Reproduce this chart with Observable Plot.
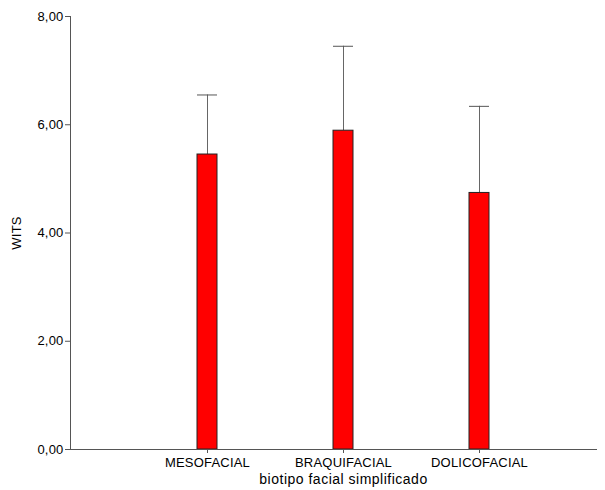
<!DOCTYPE html>
<html>
<head>
<meta charset="utf-8">
<script src="https://cdn.jsdelivr.net/npm/d3@7"></script>
<script src="https://cdn.jsdelivr.net/npm/@observablehq/plot@0.6"></script>
<style>
  html, body { margin: 0; padding: 0; background: #fff; }
  svg { font-family: "Liberation Sans", Arial, sans-serif; }
  svg text { letter-spacing: 0.2px; }
  svg .xtitle text { letter-spacing: 0.5px; }
</style>
</head>
<body>
<div id="chart"></div>
<script>
const categories = ["MESOFACIAL", "BRAQUIFACIAL", "DOLICOFACIAL"];
const means = [5.45, 5.89, 4.74];
const upper = [6.55, 7.45, 6.34];
const yTicks = [0, 2, 4, 6, 8];
const xTitle = "biotipo facial simplificado";
const yTitle = "WITS";

const data = categories.map((c, i) => ({cat: c, mean: means[i], hi: upper[i]}));
const fmt = d => d.toFixed(2).replace(".", ",");
const pad = 1 - 20 / 136;

const chart = Plot.plot({
  width: 605,
  height: 490,
  marginLeft: 70,
  marginRight: 8,
  marginTop: 16,
  marginBottom: 41,
  style: {fontFamily: "'Liberation Sans', Arial, sans-serif", fontSize: "13px", color: "#000"},
  x: {type: "band", domain: categories, range: [139, 547], paddingInner: pad, paddingOuter: pad / 2},
  y: {domain: [0, 8], range: [449, 16]},
  marks: [
    Plot.ruleX(data, {x: "cat", y1: "mean", y2: "hi", stroke: "#666", strokeWidth: 1}),
    Plot.tickY(data, {x: "cat", y: "hi", stroke: "#555", strokeWidth: 1}),
    Plot.barY(data, {x: "cat", y: "mean", fill: "#ff0000", stroke: "#222", strokeWidth: 1}),
    Plot.ruleY([0], {stroke: "#555"}),
    Plot.frame({anchor: "left", stroke: "#555"}),
    Plot.axisY({ticks: yTicks, tickFormat: fmt, tickSize: 5, tickPadding: 2, stroke: "#555", label: yTitle, labelArrow: "none", labelAnchor: "center", labelOffset: 59, fontSize: 13}),
    Plot.axisX({tickSize: 4, tickPadding: 4, stroke: "#555", label: null, fontSize: 13}),
    Plot.text([xTitle], {x: () => "BRAQUIFACIAL", frameAnchor: "bottom", dy: 34, fontSize: 14, fill: "#000", className: "xtitle"})
  ]
});
document.getElementById("chart").appendChild(chart);
</script>
</body>
</html>
